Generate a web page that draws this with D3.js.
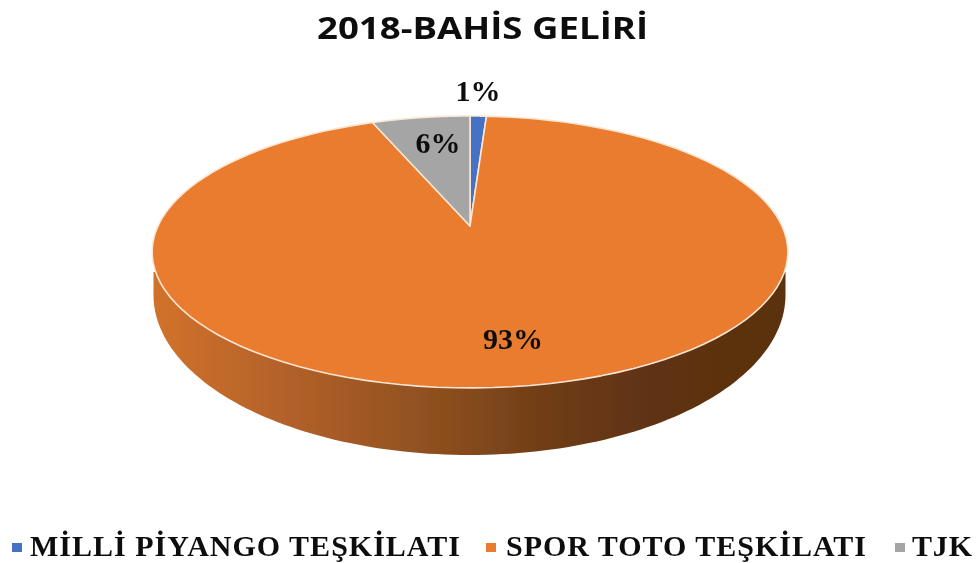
<!DOCTYPE html>
<html><head><meta charset="utf-8">
<script src="https://cdn.jsdelivr.net/npm/d3@7/dist/d3.min.js"></script>
<style>html,body{margin:0;padding:0;background:#fff}svg{display:block}</style>
</head><body><svg id="c" width="977" height="563"></svg>
<script>
const titleText = "2018-BAHİS GELİRİ";
const categories = ["MİLLİ PİYANGO TEŞKİLATI", "SPOR TOTO TEŞKİLATI", "TJK"];
const values = [1, 93, 6];
const labels = ["1%", "93%", "6%"];
const colors = ["#4472c4", "#e97b2f", "#a5a5a5"];

const svg = d3.select("#c");
const defs = svg.append("defs");
const soft = defs.append("filter").attr("id","soft").attr("x","-5%").attr("y","-20%").attr("width","110%").attr("height","140%");
soft.append("feGaussianBlur").attr("stdDeviation",0.55);
const softShape = defs.append("filter").attr("id","softShape").attr("x","-5%").attr("y","-5%").attr("width","110%").attr("height","110%");
softShape.append("feGaussianBlur").attr("stdDeviation",0.7);
const g = defs.append("linearGradient").attr("id","side").attr("x1",0).attr("x2",1).attr("y1",0).attr("y2",0);
[[0,"#d1722c"],[0.2,"#b4622a"],[0.45,"#8d4f1f"],[0.62,"#6f3d17"],[0.8,"#5e3212"],[1,"#5a3010"]]
  .forEach(([o,c])=>g.append("stop").attr("offset",o).attr("stop-color",c));

// perspective disc projection
const cx = 470, cy = 226, A = 312, B = 131, K = 0.191;
const proj = theta => {
  const u = Math.sin(theta), v = -Math.cos(theta), w = 1 - K * v;
  return [cx + A * u / w, cy + B * v / w];
};
const line = d3.line();
const arcPts = (a0, a1, n = 120) =>
  d3.range(n + 1).map(i => proj(a0 + (a1 - a0) * i / n));

const color = d3.scaleOrdinal().domain(categories).range(colors);
const pie = d3.pie().sort(null).value(d => d.value);
const rows = categories.map((c, i) => ({ name: c, value: values[i], label: labels[i] }));
const arcs = pie(rows);

const chart = svg.append("g").attr("filter","url(#softShape)");
// side wall: lower outline is a half ellipse, upper edge is hidden by the top face
const lowerCx = 469.5, lowerCy = 295, lowerA = 316, lowerB = 160;
const lower = d3.range(121).map(i => {
  const t = Math.PI * i / 120;
  return [lowerCx - lowerA * Math.cos(t), lowerCy + lowerB * Math.sin(t)];
});
const wall = [[lowerCx - lowerA, 272]].concat(lower, [[lowerCx + lowerA, 272]]);
chart.append("path").attr("d", line(wall) + "Z").attr("fill", "url(#side)");

// top face
chart.selectAll("path.slice").data(arcs).join("path").attr("class","slice")
  .attr("d", d => line([[cx, cy]].concat(arcPts(d.startAngle, d.endAngle))) + "Z")
  .attr("fill", d => color(d.data.name))
  .attr("stroke", "#fbe6d3").attr("stroke-width", 1.6).attr("stroke-linejoin","round");

// data labels
const labelPos = { "1%": [478, 90], "93%": [513, 338], "6%": [438, 142] };
svg.append("g").attr("filter","url(#soft)").selectAll("text").data(rows).join("text")
  .attr("x", d => labelPos[d.label][0]).attr("y", d => labelPos[d.label][1])
  .attr("text-anchor","middle").attr("dominant-baseline","central")
  .attr("font-family","'Liberation Serif',serif").attr("font-weight",700).attr("font-size",30)
  .attr("fill", "#111").text(d => d.label);

// title
svg.append("text").attr("x",482.5).attr("y",39).attr("text-anchor","middle")
  .attr("font-family","'Open Sans',sans-serif").attr("font-weight",700).attr("font-size",31)
  .attr("textLength",331).attr("lengthAdjust","spacingAndGlyphs")
  .attr("fill","#111").attr("filter","url(#soft)").text(titleText);

// legend
const legendX = [[12,30,430],[486,506,360],[895,912,60]];
const lg = svg.append("g").attr("filter","url(#soft)");
rows.forEach((d,i)=>{
  const [mx,tx,tw] = legendX[i];
  lg.append("rect").attr("x",mx).attr("y",543).attr("width",10).attr("height",9).attr("fill",color(d.name));
  lg.append("text").attr("x",tx).attr("y",556)
    .attr("font-family","'Liberation Serif',serif").attr("font-weight",700).attr("font-size",30)
    .attr("textLength",tw).attr("lengthAdjust","spacing").attr("fill","#111").text(d.name);
});
</script></body></html>
